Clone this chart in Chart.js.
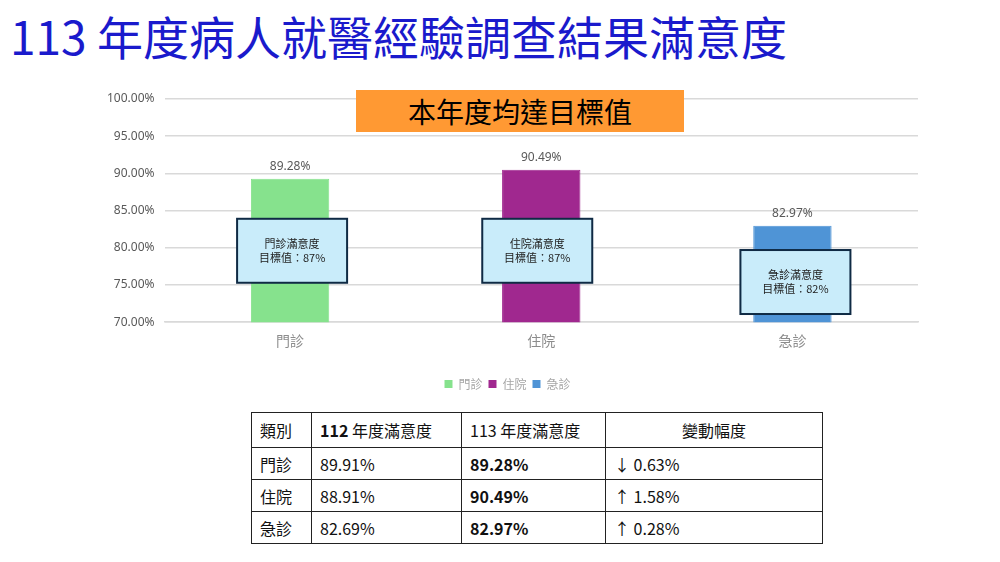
<!DOCTYPE html>
<html>
<head>
<meta charset="utf-8">
<script src="https://cdn.jsdelivr.net/npm/chart.js@4"></script>
<style>
  body { margin: 0; width: 1000px; height: 562px; background: #fff; position: relative; overflow: hidden;
         font-family: "Noto Sans CJK TC", "Noto Sans", sans-serif; }
  #title { position: absolute; left: 10px; top: 2px; font-size: 46px; color: #1a1acc; white-space: nowrap; }
  #wrap { position: absolute; left: 0; top: 80px; width: 1000px; height: 320px; }
  #banner { position: absolute; left: 356px; top: 90px; width: 328px; height: 42px; background: #ff9933;
            font-size: 28px; line-height: 42px; text-align: center; color: #000; }
  table { position: absolute; left: 251px; top: 412px; border-collapse: collapse; font-size: 16px; color: #111; }
  td { border: 1px solid #222; padding: 0 0 0 8px; height: 31px; }
  tr:first-child td { height: 34px; }
  b { font-weight: bold; }
</style>
</head>
<body>
<div id="title">113 年度病人就醫經驗調查結果滿意度</div>
<div id="wrap"><canvas id="myChart"></canvas></div>
<div id="banner">本年度均達目標值</div>
<table id="tbl"></table>
<script>
const categories = ['門診', '住院', '急診'];
const values113 = [89.28, 90.49, 82.97];
const values112 = [89.91, 88.91, 82.69];
const changes = ['↓ 0.63%', '↑ 1.58%', '↑ 0.28%'];
const targets = [87, 87, 82];
const barColors = ['#86e28d', '#a0288f', '#4f94d6'];
const yTicks = [70, 75, 80, 85, 90, 95, 100];

// callout boxes: top / bottom in axis units
const boxTop = [83.9, 83.9, 79.7];
const boxBottom = [75.3, 75.3, 71.1];
const boxShift = [2, -4, 3];

const calloutPlugin = {
  id: 'callouts',
  afterDatasetsDraw(chart) {
    const c = chart.ctx;
    const y = chart.scales.y;
    const meta = chart.getDatasetMeta(0);
    meta.data.forEach((bar, i) => {
      const cx = bar.x + boxShift[i];
      const w = 110;
      const t = y.getPixelForValue(boxTop[i]);
      const b = y.getPixelForValue(boxBottom[i]);
      c.save();
      c.fillStyle = '#c9ecfa';
      c.fillRect(cx - w / 2, t, w, b - t);
      c.lineWidth = 2;
      c.strokeStyle = '#0f2a44';
      c.strokeRect(cx - w / 2, t, w, b - t);
      c.fillStyle = '#222';
      c.font = '11px "Noto Sans CJK TC"';
      c.textAlign = 'center';
      c.textBaseline = 'middle';
      const mid = (t + b) / 2;
      c.fillText(categories[i] + '滿意度', cx, mid - 7);
      c.fillText('目標值：' + targets[i] + '%', cx, mid + 7);
      // value label above bar
      c.fillStyle = '#595959';
      c.font = '12px "Noto Sans"';
      c.fillText(values113[i].toFixed(2) + '%', bar.x, bar.y - 12);
      c.restore();
    });
  }
};

new Chart(document.getElementById('myChart'), {
  type: 'bar',
  data: {
    labels: categories,
    datasets: [{
      data: values113,
      backgroundColor: barColors,
      borderColor: barColors,
      borderWidth: 1,
      barPercentage: 0.39,
      categoryPercentage: 0.8
    }]
  },
  options: {
    responsive: true,
    maintainAspectRatio: false,
    animation: false,
    layout: { padding: { left: 97, right: 82, top: 19, bottom: 0 } },
    plugins: {
      tooltip: { enabled: false },
      legend: {
        position: 'bottom',
        title: { display: true, text: '', font: { size: 1, lineHeight: 1 }, padding: { top: 0, bottom: 20 } },
        labels: {
          boxWidth: 8, boxHeight: 8, padding: 6, color: '#a6a6a6',
          font: { size: 12, family: 'Noto Sans CJK TC' },
          generateLabels: () => categories.map((c, i) => ({
            text: c, fillStyle: barColors[i], strokeStyle: barColors[i], lineWidth: 0, fontColor: '#a6a6a6'
          }))
        }
      }
    },
    scales: {
      x: {
        grid: { display: false },
        border: { color: '#d9d9d9', width: 1.5 },
        ticks: { color: '#8c8c8c', font: { size: 14, family: 'Noto Sans CJK TC' }, padding: 2 }
      },
      y: {
        min: 70, max: 100,
        afterBuildTicks: (s) => { s.ticks = yTicks.map(v => ({ value: v })); },
        border: { display: false },
        grid: { color: '#d9d9d9', lineWidth: 1.5, drawTicks: false },
        ticks: {
          color: '#595959', font: { size: 12, family: 'Noto Sans' }, padding: 10,
          callback: v => v.toFixed(2) + '%'
        }
      }
    }
  },
  plugins: [calloutPlugin]
});

// table
const tbl = document.getElementById('tbl');
const widths = [60, 150, 144, 217];
const head = ['類別', '<b>112</b> 年度滿意度', '113 年度滿意度', '變動幅度'];
let html = '<tr>' + head.map((h, i) => i === 3
  ? `<td style="width:${widths[i] - 1}px;text-align:center;padding:0">${h}</td>`
  : `<td style="width:${widths[i] - 9}px">${h}</td>`).join('') + '</tr>';
categories.forEach((c, i) => {
  html += `<tr><td>${c}</td><td>${values112[i].toFixed(2)}%</td><td><b>${values113[i].toFixed(2)}%</b></td><td>${changes[i]}</td></tr>`;
});
tbl.innerHTML = html;
</script>
</body>
</html>
